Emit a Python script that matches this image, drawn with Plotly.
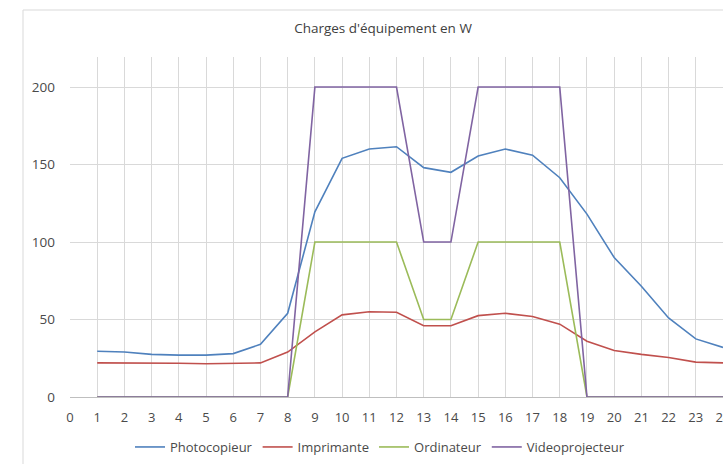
import plotly.graph_objects as go

hours = list(range(1, 25))
photocopieur = [29.5, 29, 27.5, 27, 27, 28, 34, 54, 119.5, 154, 160, 161.5, 148, 145, 155.5, 160, 156, 141.5, 118, 90, 71.5, 51, 37.5, 32]
imprimante = [22, 22, 22, 21.8, 21.5, 21.8, 22, 29, 42, 53, 55, 54.7, 46, 46, 52.5, 54, 52, 47, 36, 30, 27.5, 25.5, 22.5, 22]
ordinateur = [0, 0, 0, 0, 0, 0, 0, 0, 100, 100, 100, 100, 50, 50, 100, 100, 100, 100, 0, 0, 0, 0, 0, 0]
videoprojecteur = [0, 0, 0, 0, 0, 0, 0, 0, 200, 200, 200, 200, 100, 100, 200, 200, 200, 200, 0, 0, 0, 0, 0, 0]
tick_vals = list(range(0, 25))
title = "Charges d'équipement en W"

series = [
    ("Photocopieur", photocopieur, "#4F81BD"),
    ("Imprimante", imprimante, "#C0504D"),
    ("Ordinateur", ordinateur, "#9BBB59"),
    ("Videoprojecteur", videoprojecteur, "#8064A2"),
]

fig = go.Figure()
for name, vals, col in series:
    fig.add_trace(go.Scatter(x=hours, y=vals, mode="lines", name=name,
                             line=dict(color=col, width=1.6)))

# The visible window is 723 px wide; the chart itself extends past the right edge.
VW = 723
W, H = 760, 464
L, T, B = 70, 57, 67
unit = (VW - L) / 24.0
pw = W - L
ph = H - T - B
xmax = pw / unit

FONT = "Open Sans, Lato, sans-serif"
TXT = "#4a4a4a"

fig.update_layout(
    width=W, height=H,
    margin=dict(l=L, r=0, t=T, b=B, autoexpand=False),
    paper_bgcolor="white", plot_bgcolor="white",
    font=dict(family=FONT, color=TXT, size=13),
    title=dict(text=title, x=383 / W, xanchor="center", y=1 - 28 / H, yanchor="middle",
               font=dict(size=13.5, color="#404040", family=FONT)),
    showlegend=True,
    legend=dict(orientation="h", x=(380 - L) / pw, xref="paper", xanchor="center",
                y=(397 - 447) / ph, yanchor="middle",
                font=dict(size=13, color=TXT, family=FONT),
                itemwidth=30, tracegroupgap=0),
    xaxis=dict(range=[0, xmax], tickmode="array", tickvals=tick_vals,
               showgrid=True, gridcolor="#d9d9d9", gridwidth=1,
               showline=True, linecolor="#bfbfbf", linewidth=1,
               zeroline=False, ticks="", ticklabelstandoff=8,
               tickfont=dict(size=13, color=TXT, family=FONT)),
    yaxis=dict(range=[0, 219.4], tickmode="array", tickvals=[0, 50, 100, 150, 200],
               showgrid=True, gridcolor="#d9d9d9", gridwidth=1,
               zeroline=False, showline=False, ticks="", ticklabelstandoff=14,
               tickfont=dict(size=13.5, color=TXT, family=FONT)),
    shapes=[dict(type="rect", xref="paper", yref="paper",
                 x0=(23 - L) / pw, x1=1.2, y0=-0.3, y1=(397 - 10) / ph,
                 line=dict(color="#d9d9d9", width=1), fillcolor="rgba(0,0,0,0)",
                 layer="below")],
)

fig.write_html("out.html", config={"displayModeBar": False})
with open("out.html", "r", encoding="utf-8") as f:
    html = f.read()
html = html.replace("<body>", "<body style=\"margin:0;padding:0;overflow:hidden\">", 1)
with open("out.html", "w", encoding="utf-8") as f:
    f.write(html)
